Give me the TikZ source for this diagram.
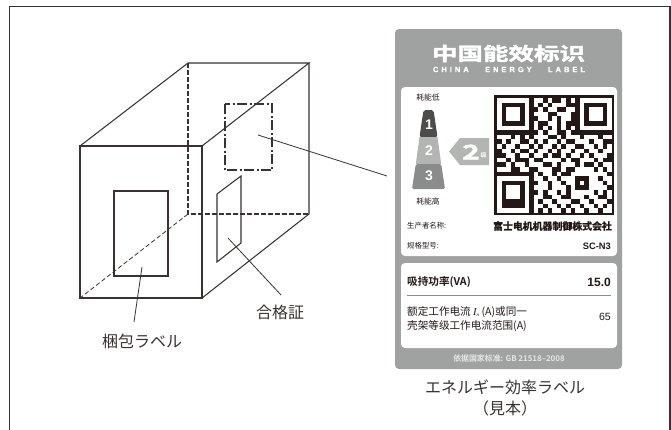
\documentclass[tikz,border=0pt]{standalone}
\usepackage{fontspec}
\setmainfont{Liberation Sans}
\newfontfamily\jp{Noto Sans CJK JP}
\newfontfamily\cnf{Noto Sans CJK SC}
\newfontfamily\scheavy{Noto Sans CJK SC}[UprightFont=* Bold,FakeBold=1.6]
\newfontfamily\scbold{Noto Sans CJK SC}[UprightFont=* Bold]
\newfontfamily\lspace{Liberation Sans}[UprightFont=* Bold,LetterSpace=40,FakeBold=0.6]
\newfontfamily\ser{Liberation Serif}
\definecolor{ink}{HTML}{3A3230}
\definecolor{qrk}{HTML}{231815}
\definecolor{panel}{HTML}{A0A2A1}
\definecolor{lightg}{HTML}{B3B5B3}
\definecolor{midg}{HTML}{8A8B8B}
\definecolor{darkg}{HTML}{4E4B4B}
\newcount\qx
\newcount\qy
\def\qrscan#1{\ifx#1.\else\ifx#11\fill[white] (497+\the\qx*4.6,98+\the\qy*4.6) rectangle ++(4.6,4.6);\fi\global\advance\qx by 1 \expandafter\qrscan\fi}
\tikzset{
 boxedge/.style={draw=ink,line width=1.05pt},
 hiddenedge/.style={draw=ink,line width=1.05pt,dash pattern=on 4.5pt off 2.5pt},
 hiddenthin/.style={draw=ink,line width=.8pt,dash pattern=on 4.5pt off 2.5pt},
 leader/.style={draw=ink,line width=.8pt},
 chaind/.style={draw=ink,line width=1.05pt,dash pattern=on 10pt off 2.5pt on 2pt off 2.5pt},
 captxt/.style={text=ink,inner sep=0pt,font=\jp\fontsize{16}{18}\selectfont},
 lbl/.style={text=qrk,inner sep=0pt},
 leftl/.style={lbl,anchor=west},
 rightl/.style={lbl,anchor=east},
}
\begin{document}
\begin{tikzpicture}[x=1pt,y=-1pt]
\useasboundingbox (0,0) rectangle (671,429);
\fill[white] (0,0) rectangle (671,429);
\draw[ink,line width=1.2pt] (9.5,440) -- (9.5,6.5) -- (670,6.5) -- (670,440);
% box
\coordinate (fTL) at (80,146);\coordinate (fTR) at (202,146);
\coordinate (fBR) at (202,298);\coordinate (fBL) at (80,298);
\coordinate (bTL) at (188,63);\coordinate (bTR) at (309,63);
\coordinate (bBR) at (309,214);\coordinate (bBL) at (188,214);
\draw[hiddenedge] (bTL) -- (bBL) -- (bBR);
\draw[hiddenthin] (bBL) -- (fBL);
\draw[boxedge,line join=miter] (fTL) -- (fTR) -- (fBR) -- (fBL) -- cycle;
\draw[boxedge] (fTL) -- (bTL) -- (bTR) -- (fTR);
\draw[boxedge] (bTR) -- (bBR) -- (fBR);
% labels on the box
\draw[boxedge] (114,191) rectangle (168,276);
\draw[boxedge] (217,194) -- (241,176) -- (241,243) -- (217,262) -- cycle;
\draw[chaind] (225,104) rectangle (272,170);
% leaders
\coordinate (a1) at (142,267);\coordinate (a2) at (134,322);
\coordinate (b1) at (228,238);\coordinate (b2) at (281,295);
\coordinate (c1) at (258,135);\coordinate (c2) at (387,176);
\draw[leader] (a1) -- (a2);
\draw[leader] (b1) -- (b2);
\draw[leader] (c1) -- (c2);
\node[captxt] (konpo) at (142,341) {梱包ラベル};
\node[captxt] (goukaku) at (280,312) {合格証};
% energy label
\fill[panel,rounded corners=4pt] (395,29) rectangle (622,369);
\fill[white,rounded corners=4pt] (401,87) rectangle (617,256);
\fill[white,rounded corners=4pt] (401,263) rectangle (617,348);
\node[inner sep=0pt,text=white] (title) at (508.5,53.5) {\scalebox{1}[.72]{\scheavy\fontsize{25.5}{28}\selectfont 中国能效标识}};
\node[inner sep=0pt,text=white] (sub) at (509,69.5) {\makebox[152pt][s]{\lspace\fontsize{7.5}{8}\selectfont CHINA\hfill ENERGY\hfill LABEL}};
\node[lbl,font=\cnf\fontsize{7.8}{9}\selectfont] (low) at (428,98) {耗能低};
\node[lbl,font=\cnf\fontsize{7.8}{9}\selectfont] (high) at (428,202) {耗能高};
% pyramid
\fill[darkg,rounded corners=2pt] (423.5,110) -- (433.5,110) -- (437.5,137) -- (419.5,137) -- cycle;
\fill[lightg] (419.5,137) -- (437.5,137) -- (441.2,164) -- (415.8,164) -- cycle;
\fill[midg,rounded corners=1.5pt] (415.8,164) -- (441.2,164) -- (445,189) -- (412,189) -- cycle;
\node[inner sep=0pt,text=white,font=\bfseries\fontsize{14}{15}\selectfont] (n1) at (429,125) {1};
\node[inner sep=0pt,text=white,font=\bfseries\fontsize{14}{15}\selectfont] (n2) at (429,151) {2};
\node[inner sep=0pt,text=white,font=\bfseries\fontsize{14}{15}\selectfont] (n3) at (429,176) {3};
% arrow
\fill[lightg] (449,151.5) -- (460,138) -- (489,138) -- (489,165) -- (460,165) -- cycle;
\node[inner sep=0pt,text=white] (two) at (471,152) {\scalebox{1.5}[1]{\scheavy\fontsize{20}{21}\selectfont 2}};
\node[inner sep=0pt,text=white,font=\scbold\fontsize{6}{7}\selectfont] (ji) at (483.5,155.5) {级};
% QR
\fill[qrk] (494,95) rectangle (614,215);
\foreach \r [count=\yy from 0] in {
1111111011010010101111111,
1000001010101110001000001,
1011101001011001101011101,
1011101011100111001011101,
1011101001101011001011101,
1000001010011010001000001,
1111111010101010101111111,
0000000001011001000000000,
1110101011100101110111011,
0101100101011010011101100,
1011011010110101100110101,
0110100101101011011011011,
0011011011010010110101110,
1101000100111101001110100,
0010110111001011101001011,
1110011001110010011110101,
0000000010110100111111110,
1111111011011011100011011,
1000001001101101101011101,
1011101011101110100011110,
1011101001011010111110101,
1011101011001100111011001,
1000001010110111001101110,
1000001011011010110110101,
1111111010101101011011011}{
  \global\qy=\yy\relax
  \global\qx=0\relax
  \expandafter\qrscan\r.
}
% texts
\node[leftl,font=\cnf\fontsize{7.4}{9}\selectfont] (maker) at (407,226) {生产者名称:};
\node[leftl,font=\cnf\fontsize{7.4}{9}\selectfont] (model) at (407,246) {规格型号:};
\node[lbl,font=\scheavy\fontsize{9.9}{11}\selectfont] (makerv) at (552.5,226) {富士电机机器制御株式会社};
\node[rightl,font=\bfseries\fontsize{9.3}{10}\selectfont] (modelv) at (611,246) {SC-N3};
\node[leftl,font=\scbold\fontsize{10.6}{12}\selectfont] (hold) at (407,282) {吸持功率(VA)};
\node[rightl,font=\bfseries\fontsize{12}{13}\selectfont] (holdv) at (611,282) {15.0};
\draw[midg,line width=1pt] (407,295) -- (611,295);
\node[leftl,font=\cnf\fontsize{10.6}{12}\selectfont] (cur1) at (407,312) {额定工作电流 {\ser\itshape I}\raisebox{-1pt}{\ser\itshape\fontsize{5}{6}\selectfont n} (A)或同一};
\node[leftl,font=\cnf\fontsize{10.6}{12}\selectfont] (cur2) at (407,326) {壳架等级工作电流范围(A)};
\node[rightl,font=\fontsize{10.5}{12}\selectfont] (curv) at (611,317) {65};
\node[inner sep=0pt,text=white!90!black,font=\scbold\fontsize{7.9}{9}\selectfont] (std) at (509,358) {依据国家标准: GB 21518–2008};
\node[captxt] (cap1) at (505,387) {エネルギー効率ラベル};
\node[captxt] (cap2) at (505,408) {（見本）};
\end{tikzpicture}
\end{document}
